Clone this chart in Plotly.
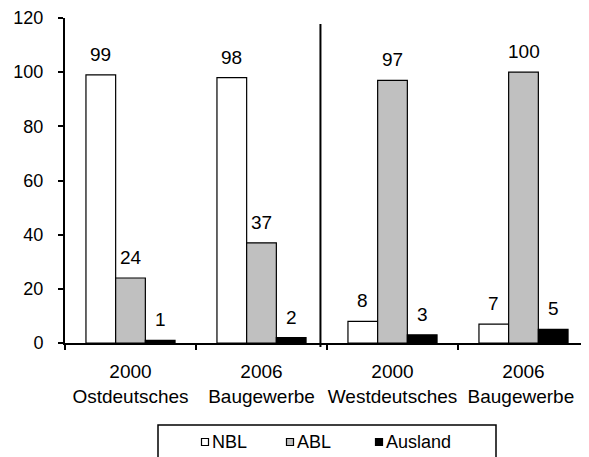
import plotly.graph_objects as go

categories = ["2000<br>Ostdeutsches", "2006<br>Baugewerbe", "2000<br>Westdeutsches", "2006<br>Baugewerbe "]
series_names = ["NBL", "ABL", "Ausland"]
nbl = [99, 98, 8, 7]
abl = [24, 37, 97, 100]
ausland = [1, 2, 3, 5]
y_ticks = [0, 20, 40, 60, 80, 100, 120]

series_values = [nbl, abl, ausland]
fills = ["#FFFFFF", "#C0C0C0", "#000000"]

# page has an 8px body margin; the figure is sized to fill the rest of the window
OFF = 8
W, H = 589 - OFF, 457 - OFF
ML, MR, MT, MB = 65 - OFF, 0, 18 - OFF, 457 - 343
plot_w = W - ML - MR
plot_h = H - MT - MB
bargap = 0.32
cat_w = plot_w / len(categories)
bar_w = cat_w * (1 - bargap) / len(series_names)

FONT = "Liberation Sans, Arial, sans-serif"

fig = go.Figure()
for name, vals, col in zip(series_names, series_values, fills):
    fig.add_trace(go.Bar(
        name=name, x=categories, y=vals,
        marker=dict(color=col, line=dict(color="#000000", width=1.2)),
        showlegend=False,
    ))

annotations = []
for si, vals in enumerate(series_values):
    for ci, v in enumerate(vals):
        annotations.append(dict(
            x=categories[ci], y=v, xref="x", yref="y",
            text=str(v), showarrow=False, yanchor="bottom",
            xshift=(si - 1) * bar_w, yshift=8,
            font=dict(family=FONT, size=19, color="#000000"),
        ))

# convert reference-window pixel positions into paper fractions
def px_x(p):
    return (p - OFF - ML) / plot_w

def px_y(p):
    return (H - MB - (p - OFF)) / plot_h

shapes = [
    dict(type="line", xref="x", yref="paper", x0=1.45, x1=1.45,
         y0=px_y(347), y1=px_y(24), line=dict(color="#000000", width=2)),
]

# legend box (drawn manually)
leg_left, leg_right, leg_top, leg_bot = 158, 496, 425, 475
shapes.append(dict(type="rect", xref="paper", yref="paper",
                   x0=px_x(leg_left), x1=px_x(leg_right), y0=px_y(leg_bot), y1=px_y(leg_top),
                   line=dict(color="#000000", width=1.5), fillcolor="rgba(0,0,0,0)"))
leg_items_x = [205, 290, 379]
leg_cy = 442
for name, col, lx in zip(series_names, fills, leg_items_x):
    shapes.append(dict(type="rect", xref="paper", yref="paper",
                       x0=px_x(lx - 3.5), x1=px_x(lx + 3.5),
                       y0=px_y(leg_cy + 3.5), y1=px_y(leg_cy - 3.5),
                       line=dict(color="#000000", width=1.2), fillcolor=col))
    annotations.append(dict(x=px_x(lx + 5), y=px_y(leg_cy), xref="paper", yref="paper",
                            text=name, showarrow=False, xanchor="left", yanchor="middle",
                            font=dict(family=FONT, size=18, color="#000000")))

fig.update_layout(
    width=W, height=H,
    margin=dict(l=ML, r=MR, t=MT, b=MB, autoexpand=False),
    paper_bgcolor="#FFFFFF", plot_bgcolor="#FFFFFF",
    barmode="group", bargap=bargap, bargroupgap=0,
    showlegend=False,
    font=dict(family=FONT, size=18, color="#000000"),
    annotations=annotations, shapes=shapes,
)
fig.update_xaxes(
    type="category", showgrid=False, showline=True, linecolor="#000000", linewidth=2,
    ticks="outside", tickson="boundaries", ticklen=5, tickwidth=1.5, tickcolor="#000000",
    tickfont=dict(family=FONT, size=19), ticklabelstandoff=10, tickangle=0, automargin=False,
)
fig.update_yaxes(
    range=[0, 120], tickvals=y_ticks, showgrid=False, zeroline=False,
    showline=True, linecolor="#000000", linewidth=2,
    ticks="outside", ticklen=5, tickwidth=1.5, tickcolor="#000000",
    tickfont=dict(family=FONT, size=18), ticklabelstandoff=11, automargin=False,
)

fig.write_html("out.html")
